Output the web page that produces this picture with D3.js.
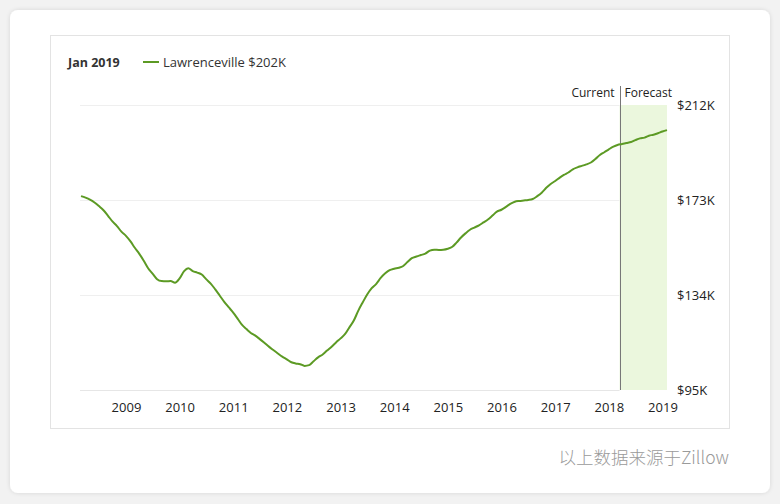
<!DOCTYPE html>
<html>
<head>
<meta charset="utf-8">
<script src="https://cdn.jsdelivr.net/npm/d3@7"></script>
<style>
  html, body { margin: 0; padding: 0; background: #f2f2f2; }
  svg { display: block; }
</style>
</head>
<body>
<svg id="chart" width="780" height="504"></svg>
<script>
// ---- data ----
const startMonth = "2008-03";
const seriesName = "Lawrenceville";
const legendDate = "Jan 2019";
const legendValue = "$202K";
const values = [
  174.6,174.0,173.2,172.0,170.5,168.8,166.5,164.2,162.3,160.0,158.3,156.0,
  153.5,151.0,148.2,145.0,142.8,140.5,139.7,139.6,139.7,139.0,140.8,143.8,
  145.0,143.8,143.2,142.4,140.5,138.7,136.3,133.8,131.2,129.0,126.8,124.2,
  121.8,120.0,118.4,117.3,115.9,114.4,112.8,111.4,110.0,108.7,107.6,106.4,
  105.9,105.6,104.9,105.2,106.8,108.4,109.6,111.2,112.8,114.5,116.2,118.0,
  120.6,123.5,127.5,131.0,134.2,136.8,138.6,141.0,142.9,144.2,144.8,145.2,
  145.8,147.5,149.1,149.8,150.4,151.0,152.2,152.6,152.5,152.6,153.0,153.8,
  155.5,157.6,159.3,160.8,161.7,162.6,163.8,165.0,166.6,168.2,169.0,170.2,
  171.4,172.3,172.6,172.8,173.0,173.4,174.6,176.0,178.0,179.6,180.8,182.2,
  183.3,184.3,185.6,186.4,187.0,187.6,188.4,189.8,191.5,192.6,193.8,194.9,
  195.6,196.0,196.4,196.8,197.6,198.3,198.6,199.4,199.8,200.4,201.1,201.7
];
const forecastStart = "2018-03-15";
const yTicks = [95, 134, 173, 212];
const yTickLabels = ["$95K", "$134K", "$173K", "$212K"];
const xTickYears = [2009, 2010, 2011, 2012, 2013, 2014, 2015, 2016, 2017, 2018, 2019];
const sourceText = "以上数据来源于Zillow";

// ---- build ----
const parseMonth = d3.timeParse("%Y-%m");
const parseDay = d3.timeParse("%Y-%m-%d");
const t0 = parseMonth(startMonth);
const data = values.map((v, i) => ({ date: d3.timeMonth.offset(t0, i), value: v }));
const fDate = parseDay(forecastStart);

const svg = d3.select("#chart");
const font = "'Open Sans', 'Lato', sans-serif";
const green = "#5c9a24";

// card
const defs = svg.append("defs");
const f = defs.append("filter").attr("id", "sh").attr("x", "-5%").attr("y", "-5%").attr("width", "110%").attr("height", "110%");
f.append("feDropShadow").attr("dx", 0).attr("dy", 0).attr("stdDeviation", 2).attr("flood-color", "#000").attr("flood-opacity", 0.12);
svg.append("rect").attr("x", 10).attr("y", 10).attr("width", 760).attr("height", 483)
  .attr("rx", 8).attr("fill", "#fff").attr("filter", "url(#sh)");

// inner box
svg.append("rect").attr("x", 50.5).attr("y", 35.5).attr("width", 679).attr("height", 393)
  .attr("fill", "#fff").attr("stroke", "#e3e3e3").attr("stroke-width", 1);

const x = d3.scaleTime().domain([data[0].date, data[data.length - 1].date]).range([81, 667]);
const y = d3.scaleLinear().domain([95, 212]).range([390, 105]);

// forecast region
svg.append("rect").attr("x", x(fDate)).attr("y", y(212))
  .attr("width", x(data[data.length - 1].date) - x(fDate)).attr("height", y(95) - y(212))
  .attr("fill", "#ebf7dd");

// grid lines
svg.append("g").selectAll("line").data(yTicks).join("line")
  .attr("x1", 80).attr("x2", d => x(fDate))
  .attr("y1", d => Math.round(y(d)) + 0.5).attr("y2", d => Math.round(y(d)) + 0.5)
  .attr("stroke", d => d === 95 ? "#e6e6e6" : "#efefef").attr("stroke-width", 1);

// y labels
svg.append("g").selectAll("text").data(yTicks).join("text")
  .attr("x", 677).attr("y", d => y(d)).attr("dy", "0.36em")
  .attr("font-family", font).attr("font-size", 13).attr("fill", "#222")
  .text((d, i) => yTickLabels[i]);

// x axis
const xAxis = d3.axisBottom(x)
  .tickValues(xTickYears.map(yr => new Date(yr, 0, 1)))
  .tickFormat(d3.timeFormat("%Y")).tickSize(0).tickPadding(0);
const gx = svg.append("g").attr("transform", "translate(0,403)").call(xAxis);
gx.select(".domain").remove();
gx.selectAll("text").attr("font-family", font).attr("font-size", 13).attr("fill", "#222");

// divider
svg.append("line").attr("x1", Math.round(x(fDate)) + 0.5).attr("x2", Math.round(x(fDate)) + 0.5)
  .attr("y1", 86).attr("y2", 390).attr("stroke", "#777").attr("stroke-width", 1);
svg.append("text").attr("x", x(fDate) - 5).attr("y", 97).attr("text-anchor", "end")
  .attr("font-family", font).attr("font-size", 12).attr("fill", "#222").text("Current");
svg.append("text").attr("x", x(fDate) + 5).attr("y", 97)
  .attr("font-family", font).attr("font-size", 12).attr("fill", "#222").text("Forecast");

// line
const line = d3.line().x(d => x(d.date)).y(d => y(d.value)).curve(d3.curveMonotoneX);
svg.append("path").datum(data).attr("d", line).attr("fill", "none")
  .attr("stroke", green).attr("stroke-width", 2).attr("stroke-linejoin", "round");

// legend
svg.append("text").attr("x", 68).attr("y", 66.5).attr("font-family", font).attr("font-size", 12.5)
  .attr("font-weight", 700).attr("fill", "#333").text(legendDate);
svg.append("line").attr("x1", 143).attr("x2", 159).attr("y1", 62).attr("y2", 62)
  .attr("stroke", green).attr("stroke-width", 2);
svg.append("text").attr("x", 163).attr("y", 66.5).attr("font-family", font).attr("font-size", 13)
  .attr("fill", "#333").text(seriesName + " " + legendValue);

// source
svg.append("text").attr("x", 729).attr("y", 464).attr("text-anchor", "end")
  .attr("font-family", "'Noto Sans CJK SC', sans-serif").attr("font-size", 17.5).attr("font-weight", 300)
  .attr("fill", "#9a9a9a").text(sourceText);
</script>
</body>
</html>
